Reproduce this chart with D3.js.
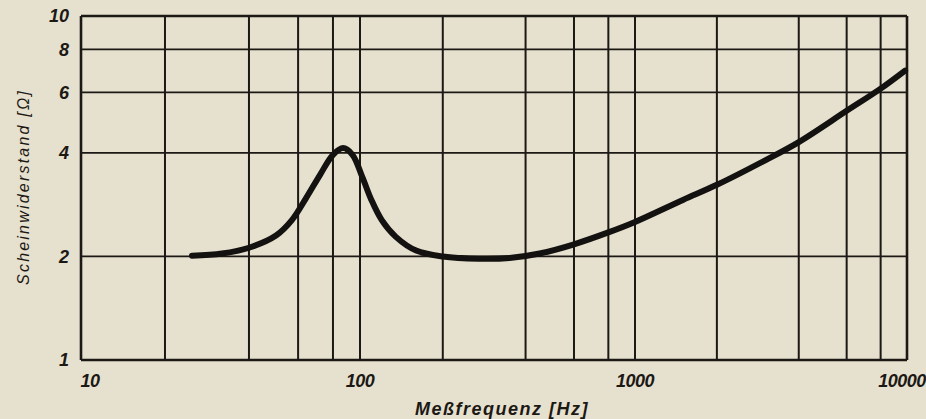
<!DOCTYPE html>
<html>
<head>
<meta charset="utf-8">
<script src="https://cdn.jsdelivr.net/npm/d3@7"></script>
<style>
  html, body { margin: 0; padding: 0; background: #e6e0cf; }
  svg { display: block; }
  .tick-label { font-family: "Liberation Sans", Arial, sans-serif; font-weight: bold; font-style: italic; fill: #1c1814; }
  .title { font-family: "Liberation Sans", Arial, sans-serif; font-style: italic; fill: #1c1814; }
</style>
</head>
<body>
<svg id="chart" width="926" height="419"></svg>
<script>
// Messfrequenz in Hz and Scheinwiderstand in Ohm
var freq = [25, 32, 40, 50, 57, 64, 72, 80, 87, 94, 102, 110, 120, 135, 160, 200, 270, 350, 450, 600, 800, 1000, 1500, 2000, 3000, 4000, 6000, 8000, 9840];
var ohm  = [2.01, 2.04, 2.12, 2.30, 2.55, 2.95, 3.46, 3.95, 4.13, 3.95, 3.40, 2.92, 2.55, 2.28, 2.08, 2.00, 1.97, 1.98, 2.04, 2.17, 2.35, 2.52, 2.92, 3.23, 3.80, 4.30, 5.30, 6.15, 6.94];

var xGrid = [10, 20, 40, 60, 80, 100, 200, 400, 600, 800, 1000, 2000, 4000, 6000, 8000, 10000];
var xLabels = [10, 100, 1000, 10000];
var yGrid = [1, 2, 4, 6, 8, 10];

var ink = "#1c1814";

var svg = d3.select("#chart"),
    width = +svg.attr("width"),
    height = +svg.attr("height");

svg.append("rect").attr("width", width).attr("height", height).attr("fill", "#e6e0cf");

// decades on the printed sheet are not all equally wide
var x = d3.scaleLog()
    .domain([10, 100, 1000, 10000])
    .range([81, 360, 635, 907]);

var y = d3.scaleLog()
    .domain([1, 10])
    .range([360, 16]);

var grid = svg.append("g").attr("class", "grid");

grid.selectAll("line.v")
    .data(xGrid)
    .enter().append("line")
    .attr("class", "v")
    .attr("x1", function (d) { return x(d); })
    .attr("x2", function (d) { return x(d); })
    .attr("y1", y(1))
    .attr("y2", y(10))
    .attr("stroke", ink)
    .attr("stroke-width", function (d) { return (d === 10 || d === 10000) ? 2.6 : 2; });

grid.selectAll("line.h")
    .data(yGrid)
    .enter().append("line")
    .attr("class", "h")
    .attr("x1", x(10))
    .attr("x2", x(10000))
    .attr("y1", function (d) { return y(d); })
    .attr("y2", function (d) { return y(d); })
    .attr("stroke", ink)
    .attr("stroke-width", function (d) { return (d === 1 || d === 10) ? 2.6 : 1.8; });

// y tick labels
svg.append("g").selectAll("text")
    .data(yGrid)
    .enter().append("text")
    .attr("class", "tick-label")
    .attr("x", 69)
    .attr("y", function (d) { return y(d); })
    .attr("dy", "0.36em")
    .attr("text-anchor", "end")
    .style("font-size", "18px")
    .text(function (d) { return d; });

// x tick labels
svg.append("g").selectAll("text")
    .data(xLabels)
    .enter().append("text")
    .attr("class", "tick-label")
    .attr("x", function (d) {
        if (d === 10) return x(d) + 9;
        if (d === 10000) return x(d) - 5;
        return x(d);
    })
    .attr("y", 387)
    .attr("text-anchor", "middle")
    .style("font-size", "18px")
    .style("letter-spacing", "-0.5px")
    .text(function (d) { return d; });

// curve
var line = d3.line()
    .x(function (d, i) { return x(freq[i]); })
    .y(function (d, i) { return y(ohm[i]); })
    .curve(d3.curveCatmullRom.alpha(0.5));

svg.append("path")
    .datum(freq)
    .attr("d", line)
    .attr("fill", "none")
    .attr("stroke", "#141210")
    .attr("stroke-width", 6)
    .attr("stroke-linecap", "round");

// axis titles
svg.append("text")
    .attr("class", "title")
    .attr("x", 502)
    .attr("y", 415)
    .attr("text-anchor", "middle")
    .style("font-size", "18px")
    .style("font-weight", "bold")
    .style("letter-spacing", "1.5px")
    .text("Meßfrequenz [Hz]");

svg.append("text")
    .attr("class", "title")
    .attr("transform", "translate(29,187) rotate(-90)")
    .attr("text-anchor", "middle")
    .style("font-size", "16px")
    .style("letter-spacing", "2.2px")
    .text("Scheinwiderstand [Ω]");
</script>
</body>
</html>
